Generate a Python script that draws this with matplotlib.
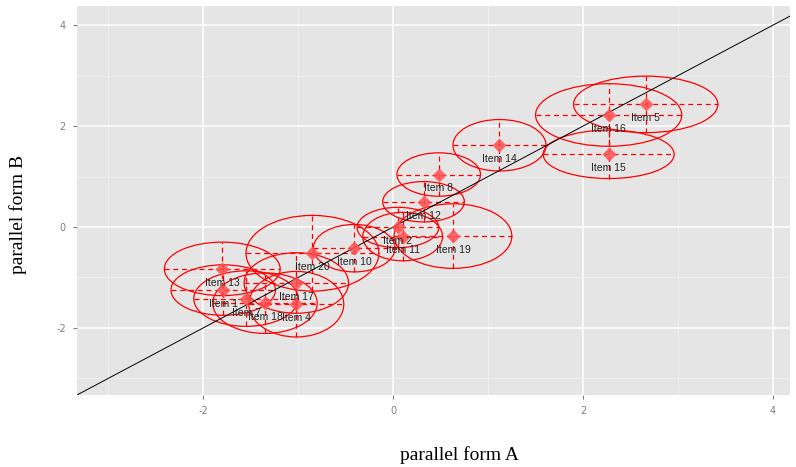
import matplotlib
matplotlib.use("Agg")
import matplotlib.pyplot as plt
from matplotlib.patches import Ellipse
from matplotlib.ticker import MultipleLocator

plt.rcParams["axes.unicode_minus"] = False

# ---- data ----
items = ["Item 1", "Item 2", "Item 4", "Item 5", "Item 7", "Item 8", "Item 10",
         "Item 11", "Item 12", "Item 13", "Item 14", "Item 15", "Item 16",
         "Item 17", "Item 18", "Item 19", "Item 20"]
form_a = [-1.79, 0.05, -1.02, 2.66, -1.55, 0.48, -0.41,
          0.10, 0.32, -1.80, 1.12, 2.27, 2.27,
          -1.02, -1.35, 0.63, -0.85]
form_b = [-1.25, -0.01, -1.53, 2.43, -1.42, 1.04, -0.42,
          -0.19, 0.50, -0.83, 1.62, 1.44, 2.22,
          -1.11, -1.51, -0.18, -0.52]
se_a = [0.55, 0.43, 0.50, 0.76, 0.55, 0.44, 0.43,
        0.42, 0.43, 0.61, 0.49, 0.69, 0.77,
        0.55, 0.55, 0.62, 0.70]
se_b = [0.50, 0.40, 0.65, 0.56, 0.55, 0.43, 0.47,
        0.48, 0.40, 0.53, 0.51, 0.48, 0.62,
        0.60, 0.60, 0.64, 0.75]

x_ticks = [-2, 0, 2, 4]
y_ticks = [-2, 0, 2, 4]
x_lim = (-3.33, 4.18)
y_lim = (-3.33, 4.38)

# ---- figure ----
fig = plt.figure(figsize=(7.96, 4.67), dpi=100)
ax = fig.add_axes([77 / 796, 1 - 395 / 467, (790 - 77) / 796, (395 - 6) / 467])
ax.set_facecolor("#E5E5E5")
for s in ax.spines.values():
    s.set_visible(False)

ax.set_xlim(*x_lim)
ax.set_ylim(*y_lim)
ax.set_xticks(x_ticks)
ax.set_yticks(y_ticks)
ax.xaxis.set_minor_locator(MultipleLocator(1))
ax.yaxis.set_minor_locator(MultipleLocator(1))
ax.grid(which="major", color="white", lw=1.1, zorder=0)
ax.grid(which="minor", color="#F2F2F2", lw=0.6, zorder=0)
ax.set_axisbelow(True)
ax.tick_params(which="major", length=3, color="#7F7F7F", labelcolor="#7F7F7F",
               labelsize=7, pad=5)
ax.tick_params(which="minor", length=0)

# identity line
lo = min(x_lim[0], y_lim[0])
hi = max(x_lim[1], y_lim[1])
ax.plot([lo, hi], [lo, hi], color="black", lw=0.7, zorder=3)

red = "#FF0000"
for name, xa, yb, sa, sb in zip(items, form_a, form_b, se_a, se_b):
    ax.add_patch(Ellipse((xa, yb), 2 * sa, 2 * sb, fill=False, edgecolor=red,
                         lw=0.9, zorder=2))
    ax.plot([xa - sa, xa + sa], [yb, yb], color=red, lw=0.9, ls=(0, (4, 3)),
            zorder=2)
    ax.plot([xa, xa], [yb - sb, yb + sb], color=red, lw=0.9, ls=(0, (4, 3)),
            zorder=2)
    ax.plot([xa], [yb], marker="D", ms=7.5, color="#FF5050", alpha=0.85,
            mec="none", zorder=4)
    ax.annotate(name, (xa, yb), xytext=(0, -10), textcoords="offset points",
                ha="center", va="center", fontsize=7.5, color="#222222",
                family="Liberation Sans", zorder=5)

ax.set_xlabel("parallel form A", family="Liberation Serif", fontsize=14,
              va="center", ha="center")
ax.xaxis.set_label_coords(0.537, -0.154)
ax.set_ylabel("parallel form B", family="Liberation Serif", fontsize=14,
              va="center", ha="center")
ax.yaxis.set_label_coords(-0.083, 0.463)

fig.savefig("out.png", dpi=100)
